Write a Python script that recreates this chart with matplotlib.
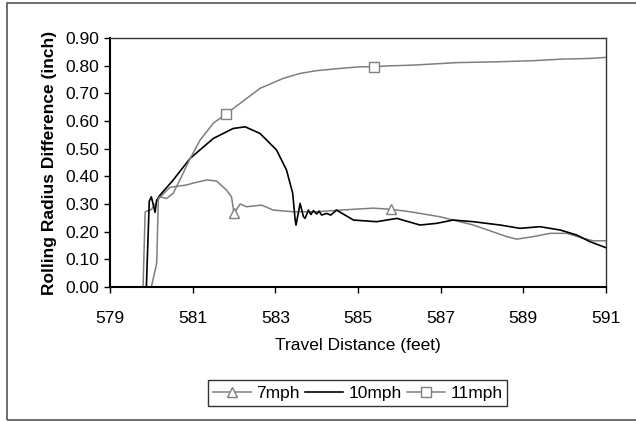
import numpy as np
import matplotlib
matplotlib.use("Agg")
import matplotlib.pyplot as plt
from matplotlib.patches import Rectangle

plt.rcParams['font.family'] = ['Liberation Sans', 'DejaVu Sans']

# 7 mph
x_7 = [579.0, 579.8, 579.85, 579.9, 580.0, 580.21, 580.45, 580.86, 581.0, 581.34, 581.58,
       581.82, 581.94, 582.0, 582.15, 582.3, 582.67, 582.95, 583.43, 584.0, 584.57, 585.37,
       585.79, 586.26, 586.98, 587.79, 588.6, 588.84, 589.24, 589.65, 590.05, 590.45, 590.69, 591.0]
y_7 = [0.0, 0.0, 0.27, 0.275, 0.28, 0.325, 0.36, 0.369, 0.375, 0.387, 0.383,
       0.35, 0.326, 0.266, 0.30, 0.29, 0.296, 0.278, 0.272, 0.272, 0.278, 0.285,
       0.281, 0.272, 0.254, 0.224, 0.182, 0.173, 0.182, 0.194, 0.194, 0.176, 0.167, 0.167]
mark_7 = [582.0, 585.79]

# 10 mph
x_10 = [579.0, 579.88, 579.95, 580.0, 580.09, 580.13, 580.21, 580.53, 580.94, 581.5, 581.98,
        582.27, 582.63, 583.03, 583.27, 583.42, 583.48, 583.5, 583.6, 583.68, 583.72, 583.8,
        583.86, 583.92, 584.0, 584.06, 584.12, 584.24, 584.34, 584.48, 584.89, 585.45, 585.94,
        586.5, 586.9, 587.3, 587.79, 588.44, 588.92, 589.4, 589.89, 590.29, 590.61, 591.0]
y_10 = [0.0, 0.0, 0.31, 0.326, 0.27, 0.314, 0.332, 0.387, 0.465, 0.537, 0.573,
        0.579, 0.555, 0.495, 0.423, 0.339, 0.242, 0.224, 0.302, 0.254, 0.248, 0.278,
        0.262, 0.276, 0.264, 0.274, 0.26, 0.266, 0.26, 0.278, 0.242, 0.236, 0.248,
        0.224, 0.23, 0.242, 0.236, 0.224, 0.212, 0.218, 0.206, 0.188, 0.164, 0.142]

# 11 mph
x_11 = [579.0, 580.0, 580.13, 580.17, 580.21, 580.37, 580.53, 580.73, 580.94, 581.18, 581.5,
        581.8, 582.15, 582.63, 583.19, 583.6, 584.0, 584.56, 585.05, 585.39, 585.69, 586.34,
        587.39, 588.36, 589.24, 589.97, 590.61, 591.0]
y_11 = [0.0, 0.0, 0.086, 0.32, 0.326, 0.32, 0.339, 0.399, 0.465, 0.531, 0.592,
        0.625, 0.664, 0.718, 0.754, 0.772, 0.782, 0.79, 0.796, 0.796, 0.799, 0.802,
        0.811, 0.814, 0.818, 0.824, 0.826, 0.83]
mark_11 = [581.8, 585.39]

x_ticks = [579, 581, 583, 585, 587, 589, 591]
y_ticks = [0.0, 0.1, 0.2, 0.3, 0.4, 0.5, 0.6, 0.7, 0.8, 0.9]

fs = 12.5
gray = '#7f7f7f'
fig = plt.figure(figsize=(6.36, 4.21), dpi=100)
ax = fig.add_axes([110 / 636, 1 - 287 / 421, 496 / 636, 249 / 421])

# outer chart frame
fig.patches.append(Rectangle((6.5 / 636, 1 - 420 / 421), 1.2, 417 / 421,
                             transform=fig.transFigure, fill=False,
                             edgecolor='#555555', linewidth=1.2))

ax.plot(x_7, y_7, color=gray, lw=1.1, marker='^', ms=7, mfc='white', mec=gray, mew=1.0,
        markevery=list(np.where(np.isin(x_7, mark_7))[0]), label='7mph')
ax.plot(x_10, y_10, color='black', lw=1.2, label='10mph')
ax.plot(x_11, y_11, color=gray, lw=1.1, marker='s', ms=6.5, mfc='white', mec=gray, mew=1.0,
        markevery=list(np.where(np.isin(x_11, mark_11))[0]), label='11mph')

ax.set_xlim(579, 591)
ax.set_ylim(0, 0.9)
ax.set_xticks(x_ticks)
ax.set_xticklabels([str(t) for t in x_ticks])
ax.set_yticks(y_ticks)
ax.set_yticklabels([f"{t:.2f}" for t in y_ticks])
ax.tick_params(labelsize=fs, length=4, width=1.0, colors='black', pad=4)
ax.tick_params(axis='x', pad=13)

for s in ['left', 'bottom']:
    ax.spines[s].set_linewidth(1.5)
for s in ['top', 'right']:
    ax.spines[s].set_linewidth(1.0)
    ax.spines[s].set_color('#333333')

ax.set_xlabel('Travel Distance (feet)', fontsize=fs, labelpad=9)
ax.set_ylabel('Rolling Radius Difference (inch)', fontsize=fs, fontweight='bold', labelpad=6)

leg = fig.legend(loc='center', bbox_to_anchor=(357.5 / 636, 1 - 393 / 421), ncol=3,
                 fontsize=fs, frameon=True, fancybox=False, edgecolor='black',
                 handlelength=2.2, handletextpad=0.3, columnspacing=0.3,
                 borderpad=0.3, markerscale=1.0)
leg.get_frame().set_linewidth(1.0)

fig.savefig('out.png', dpi=100)
